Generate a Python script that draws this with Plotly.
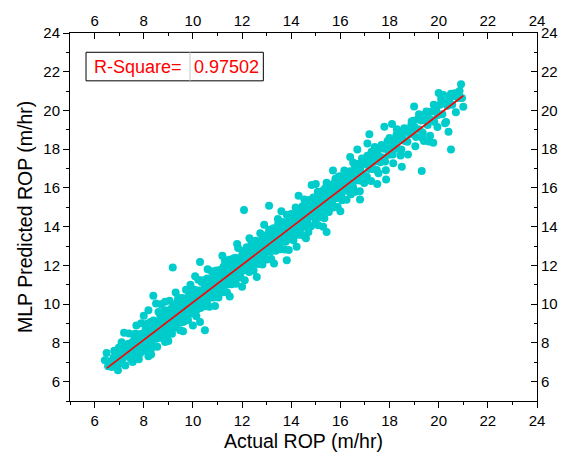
import plotly.graph_objects as go

# ---- data (Actual ROP vs MLP predicted ROP, m/hr) ----
# dense core of the band + isolated outliers
actual_rop = [
    6.55, 6.62, 6.70, 6.78, 6.85, 6.92, 7.00, 7.08, 7.15, 7.22, 7.30, 7.38, 7.45, 7.48,
    6.49, 6.42, 6.63, 6.99, 7.20, 7.37, 7.03,
    7.52, 7.55, 7.58, 7.62, 7.65, 7.68, 7.72, 7.75, 7.78, 7.82, 7.85, 7.88, 7.92, 7.95, 7.98,
    8.02, 8.05, 8.08, 8.12, 8.15, 8.18, 8.22, 8.25, 8.28, 8.32, 8.35, 8.38, 8.42, 8.45, 8.48,
    8.52, 8.55, 8.58, 8.62, 8.65, 8.68, 8.72, 8.75, 8.78, 8.82, 8.85, 8.88, 8.92, 8.95, 8.98,
    8.19, 8.39, 8.50, 8.87, 8.87, 8.19,
    9.03, 9.04, 9.09, 9.10, 9.15, 9.18, 9.19, 9.24, 9.27, 9.28, 9.33, 9.36, 9.37, 9.42, 9.45,
    9.46, 9.51, 9.52, 9.57, 9.60, 9.61, 9.66, 9.69, 9.70, 9.75, 9.78, 9.79, 9.84, 9.85, 9.90,
    9.93, 9.94, 9.99, 10.02, 10.03, 10.08, 10.11, 10.12, 10.17, 10.20, 10.21, 10.26, 10.29,
    10.30, 10.35, 10.38, 10.39, 10.44, 10.47, 10.48, 10.53, 10.56, 10.57, 10.62, 10.65, 10.66,
    10.71, 10.74, 10.75, 10.80, 10.83, 10.84, 10.89, 10.92, 10.93, 10.97, 10.99,
    9.18, 10.29, 10.49, 10.09, 10.29,
    11.02, 11.05, 11.07, 11.11, 11.13, 11.16, 11.20, 11.22, 11.25, 11.29, 11.31, 11.34, 11.38,
    11.40, 11.43, 11.47, 11.49, 11.52, 11.56, 11.58, 11.61, 11.65, 11.67, 11.70, 11.74, 11.76,
    11.79, 11.83, 11.85, 11.88, 11.92, 11.94, 11.97, 12.01, 12.03, 12.06, 12.10, 12.12, 12.15,
    12.19, 12.21, 12.24, 12.28, 12.30, 12.33, 12.37, 12.39, 12.42, 12.46, 12.48, 12.51, 12.55,
    12.57, 12.60, 12.64, 12.66, 12.69, 12.73, 12.75, 12.78, 12.82, 12.84, 12.87, 12.91, 12.93,
    12.96, 12.98, 13.00,
    12.08,
    13.03, 13.06, 13.09, 13.12, 13.15, 13.19, 13.21, 13.25, 13.28, 13.30, 13.34, 13.37, 13.40,
    13.43, 13.47, 13.49, 13.52, 13.56, 13.59, 13.61, 13.65, 13.68, 13.71, 13.74, 13.77, 13.80,
    13.83, 13.87, 13.89, 13.92, 13.96, 13.99, 14.02, 14.05, 14.08, 14.11, 14.15, 14.17, 14.21,
    14.24, 14.27, 14.30, 14.33, 14.37, 14.39, 14.43, 14.46, 14.49, 14.52, 14.55, 14.59, 14.61,
    14.65, 14.68, 14.71, 14.74, 14.77, 14.81, 14.84, 14.87, 14.91, 14.95,
    13.10, 13.82, 14.22, 14.70, 14.83, 15.44,
    15.02, 15.05, 15.09, 15.13, 15.16, 15.20, 15.24, 15.27, 15.31, 15.35, 15.38, 15.42, 15.46,
    15.49, 15.53, 15.57, 15.60, 15.64, 15.68, 15.71, 15.75, 15.79, 15.82, 15.86, 15.90, 15.93,
    15.97, 16.01, 16.04, 16.08, 16.12, 16.15, 16.19, 16.23, 16.26, 16.30, 16.34, 16.37, 16.41,
    16.45, 16.48, 16.52, 16.56, 16.59, 16.63, 16.67, 16.70, 16.74, 16.78, 16.81, 16.85, 16.92,
    15.10, 16.69,
    17.03, 17.08, 17.12, 17.18, 17.22, 17.27, 17.33, 17.37, 17.42, 17.48, 17.52, 17.57, 17.63,
    17.67, 17.72, 17.78, 17.82, 17.88, 17.92, 17.97, 18.03, 18.07, 18.13, 18.17, 18.23, 18.28,
    18.33, 18.38, 18.43, 18.48, 18.53, 18.58, 18.63, 18.68, 18.73, 18.78, 18.83, 18.88, 18.93,
    18.97,
    17.18, 17.79, 17.86,
    19.03, 19.08, 19.15, 19.22, 19.28, 19.35, 19.42, 19.48, 19.55, 19.62, 19.68, 19.75, 19.82,
    19.90, 19.97, 20.05, 20.15, 20.25, 20.35, 20.45, 20.55, 20.65, 20.80, 20.95,
    20.91, 20.50, 19.31, 19.78, 19.40, 20.66, 21.00, 20.19, 20.26,
]

predicted_rop = [
    6.80, 7.05, 6.75, 7.25, 6.95, 7.40, 7.05, 7.55, 7.20, 7.70, 7.35, 7.95, 7.50, 7.15,
    7.48, 7.10, 6.84, 7.76, 8.53, 7.88, 6.93,
    8.02, 7.35, 7.68, 8.22, 7.35, 7.98, 7.72, 8.45, 7.68, 8.22, 7.45, 8.08, 8.47, 7.80, 8.33,
    7.77, 8.20, 8.73, 7.77, 8.40, 8.23, 8.67, 8.05, 9.08, 8.42, 7.90, 8.68, 9.02, 8.40, 8.68,
    8.22, 9.05, 8.58, 9.02, 8.25, 9.38, 8.87, 8.55, 9.13, 9.37, 8.75, 9.13, 8.57, 9.40, 9.03,
    9.69, 10.43, 10.03, 10.12, 8.05, 7.31,
    9.43, 8.74, 9.19, 9.75, 9.00, 9.48, 8.74, 9.44, 9.77, 9.23, 9.68, 9.01, 10.12, 9.42, 9.70,
    9.21, 10.06, 9.62, 9.07, 10.00, 9.76, 9.56, 10.29, 9.40, 10.05, 9.83, 9.59, 10.29, 10.55, 9.50,
    10.13, 9.89, 10.49, 9.67, 10.38, 10.18, 9.96, 10.72, 9.72, 10.45, 10.21, 10.71, 10.04,
    10.45, 11.15, 10.28, 10.69, 10.14, 11.02, 10.53, 10.33, 10.96, 10.07, 10.82, 11.30, 10.61,
    11.06, 10.34, 10.85, 11.30, 10.68, 11.09, 10.59, 11.37, 10.93, 11.27, 10.74,
    11.89, 12.18, 8.65, 11.44, 9.08,
    11.32, 10.65, 11.62, 11.01, 11.33, 10.66, 11.65, 11.22, 11.95, 11.04, 11.41, 10.99, 11.78,
    11.55, 11.28, 12.07, 11.04, 11.77, 11.51, 12.08, 11.31, 12.00, 11.72, 11.50, 12.39, 11.36,
    11.99, 11.73, 12.30, 11.98, 11.37, 12.24, 11.97, 12.56, 11.78, 12.21, 11.75, 12.52, 12.00,
    12.94, 12.26, 11.94, 12.53, 11.85, 12.83, 12.32, 12.59, 12.22, 13.06, 12.58, 12.11, 12.90,
    12.47, 13.05, 12.39, 12.81, 12.74, 12.38, 13.05, 12.28, 13.37, 12.84, 12.72, 13.31, 12.63,
    13.16, 12.93, 13.35,
    14.86,
    12.73, 13.46, 12.99, 13.72, 12.70, 13.39, 13.21, 13.75, 13.03, 13.45, 12.84, 13.72, 13.45,
    13.23, 14.17, 13.14, 13.77, 13.51, 14.04, 13.21, 13.75, 14.23, 13.56, 14.04, 13.22, 14.00,
    13.73, 14.27, 13.89, 13.62, 14.61, 13.79, 14.17, 13.60, 14.43, 14.16, 13.90, 14.67, 14.11,
    14.49, 13.92, 14.75, 14.33, 13.87, 14.69, 14.28, 15.06, 14.59, 14.22, 14.75, 14.54, 15.01,
    14.25, 14.83, 15.21, 14.54, 15.07, 14.71, 14.89, 14.52, 15.16, 14.70,
    15.08, 12.27, 12.96, 13.73, 16.15, 13.73,
    15.32, 14.60, 15.19, 15.68, 14.96, 15.45, 14.74, 15.67, 15.31, 15.05, 15.98, 15.27, 15.66,
    15.09, 15.98, 15.62, 15.35, 15.99, 15.13, 15.86, 16.25, 15.69, 15.47, 16.16, 15.90, 16.58,
    15.67, 16.21, 15.59, 16.48, 16.07, 16.25, 15.99, 16.73, 15.86, 16.55, 16.39, 16.07, 16.86,
    16.30, 16.78, 16.02, 16.71, 17.14, 16.38, 16.67, 17.05, 16.64, 16.38, 17.01, 17.25, 16.72,
    14.08, 17.99,
    17.23, 16.58, 17.57, 16.98, 17.32, 17.87, 16.98, 17.67, 17.37, 16.93, 17.92, 17.62, 17.33,
    18.22, 17.57, 18.03, 17.37, 18.03, 18.42, 17.72, 18.03, 18.42, 17.73, 18.37, 18.13, 18.73,
    18.03, 18.48, 18.73, 17.98, 18.58, 18.98, 18.43, 18.93, 18.38, 18.93, 18.78, 19.23, 18.78,
    19.47,
    18.77, 19.16, 16.44,
    19.13, 18.63, 19.55, 19.02, 19.48, 18.85, 19.77, 19.48, 19.25, 19.92, 19.53, 19.95, 19.42,
    20.00, 19.77, 20.30, 19.80, 20.40, 20.25, 20.65, 20.30, 20.75, 20.65, 20.65,
    21.35, 17.99, 16.87, 18.33, 18.42, 20.89, 20.19, 20.80, 19.34,
]

# points along the upper and lower edges of the band
actual_rop_edge = [
    6.80, 6.95, 7.10, 7.25, 7.40, 7.55, 7.65, 7.80, 7.90, 8.05, 8.15, 8.30, 8.40, 8.55, 8.60,
    8.75, 8.85, 8.95, 9.05, 9.15, 9.22, 9.30, 9.40, 9.48, 9.55, 9.63, 9.72, 9.80, 9.88, 9.96,
    10.05, 10.14, 10.22, 10.31, 10.40, 10.50, 10.58, 10.67, 10.76, 10.85, 10.95, 11.04, 11.12,
    11.21, 11.30, 11.39, 11.48, 11.57, 11.66, 11.75, 11.84, 11.93, 12.02, 12.11, 12.20, 12.29,
    12.38, 12.47, 12.56, 12.65, 12.74, 12.83, 12.92, 13.01, 13.10, 13.19, 13.28, 13.37, 13.46,
    13.55, 13.64, 13.73, 13.82, 13.91, 14.00, 14.09, 14.18, 14.27, 14.36, 14.45, 14.54, 14.63,
    14.72, 14.81, 14.90, 14.99, 15.08, 15.17, 15.26, 15.35, 15.44, 15.53, 15.62, 15.71, 15.80,
    15.89, 15.98, 16.07, 16.16, 16.25, 16.34, 16.43, 16.52, 16.61, 16.70, 16.79, 16.88, 16.97,
    17.10, 17.25, 17.40, 17.55, 17.70, 17.85, 18.00, 18.15, 18.30, 18.45, 18.60, 18.75, 18.90,
    19.05, 19.20, 19.35, 19.50, 19.65, 19.80, 19.95, 20.10, 20.30, 20.50, 20.70, 20.85,
]
predicted_rop_edge = [
    7.59, 6.59, 8.03, 6.83, 8.48, 7.02, 8.47, 7.16, 9.01, 7.60, 9.00, 7.70, 9.15, 7.80, 9.60,
    8.35, 9.69, 8.39, 10.17, 8.47, 9.94, 8.82, 10.32, 8.65, 10.32, 9.10, 10.74, 9.17, 10.70, 9.53,
    10.74, 9.38, 11.26, 9.80, 11.24, 9.89, 11.32, 9.86, 11.70, 10.34, 11.74, 10.35, 11.78,
    10.62, 12.26, 10.60, 12.29, 11.03, 12.37, 11.06, 12.90, 11.44, 12.74, 11.23, 12.82, 11.66,
    13.25, 11.74, 13.28, 12.07, 13.66, 12.05, 13.54, 12.30, 13.84, 12.33, 13.92, 12.76, 14.40,
    12.84, 14.23, 12.82, 14.61, 13.35, 14.66, 13.30, 14.99, 13.58, 14.92, 13.56, 15.40, 13.99,
    15.38, 14.02, 15.51, 14.25, 15.81, 14.50, 15.84, 14.43, 16.27, 14.76, 16.15, 14.99, 16.48,
    15.02, 16.61, 15.36, 16.90, 15.39, 16.83, 15.67, 17.31, 15.80, 17.24, 15.83, 17.52, 16.26,
    17.66, 16.36, 18.11, 16.76, 18.16, 16.91, 18.58, 17.28, 19.03, 17.68, 19.08, 17.73, 19.43,
    18.15, 19.80, 18.55, 19.95, 18.70, 20.30, 19.15, 20.61, 19.41, 20.86, 19.91, 21.01,
]

# scattered points sticking out of the band
actual_rop_spread = [
    7.7, 8.0, 8.3, 8.7, 9.0, 9.3, 9.6, 9.9, 10.0, 10.6, 10.9, 11.2, 11.5, 11.8, 12.0, 12.3,
    12.6, 12.9, 13.3, 13.6, 13.9, 14.3, 14.6, 15.0, 15.3, 15.7, 16.0, 16.4, 16.8, 17.1, 17.5,
    18.1, 18.5, 19.0, 19.6, 20.0, 20.4,
]
predicted_rop_spread = [
    8.9, 9.4, 7.4, 10.0, 8.1, 10.6, 8.6, 11.0, 8.9, 11.8, 9.9, 12.5, 10.4, 13.1, 10.9, 13.4,
    11.4, 14.1, 12.1, 14.8, 12.8, 15.6, 13.4, 16.2, 14.0, 16.9, 14.8, 17.6, 15.4, 18.3, 16.2,
    19.3, 17.1, 20.2, 18.4, 20.9, 18.9,
]

# linear fit line endpoints
fit_x = [6.5, 21.0]
fit_y = [6.70, 20.76]

r_square_label = "R-Square="
r_square_value = "0.97502"

axis_range = [5, 24]
x_title = "Actual ROP (m/hr)"
y_title = "MLP Predicted ROP (m/hr)"

FONT = "Arial, 'Liberation Sans', sans-serif"
CYAN = "#00CCCC"

all_x = actual_rop_spread + actual_rop_edge + actual_rop
all_y = predicted_rop_spread + predicted_rop_edge + predicted_rop

fig = go.Figure()
fig.add_trace(go.Scatter(
    x=all_x, y=all_y, mode="markers",
    marker=dict(size=8, color=CYAN, line=dict(width=0)),
    xaxis="x", yaxis="y", showlegend=False, hoverinfo="skip",
))
fig.add_trace(go.Scatter(
    x=fit_x, y=fit_y, mode="lines",
    line=dict(color="#FF0000", width=1.6),
    xaxis="x2", yaxis="y2", showlegend=False, hoverinfo="skip",
))

common = dict(
    range=axis_range, tick0=0, dtick=2, showgrid=False, zeroline=False,
    showline=True, linecolor="black", linewidth=1, tickwidth=1, tickcolor="black",
    tickfont=dict(family=FONT, size=15, color="black"), automargin=False,
)

fig.update_layout(
    width=571, height=461,
    margin=dict(l=70, r=34, t=33, b=60),
    paper_bgcolor="white", plot_bgcolor="white",
    font=dict(family=FONT, color="black"),
    xaxis=dict(**common, ticks="outside", ticklen=6,
               minor=dict(ticks="outside", ticklen=3, dtick=1, tick0=0, tickcolor="black")),
    yaxis=dict(**common, ticks="outside", ticklen=6,
               minor=dict(ticks="outside", ticklen=3, dtick=1, tick0=0, tickcolor="black")),
    xaxis2=dict(**common, overlaying="x", side="top", anchor="y", ticks="inside", ticklen=6,
                minor=dict(ticks="inside", ticklen=3, dtick=1, tick0=0, tickcolor="black")),
    yaxis2=dict(**common, overlaying="y", side="right", anchor="x", ticks="inside", ticklen=6,
                minor=dict(ticks="inside", ticklen=3, dtick=1, tick0=0, tickcolor="black")),
)

fig.add_annotation(text=x_title, xref="paper", yref="paper", x=0.5, y=-0.109,
                   xanchor="center", yanchor="middle", showarrow=False,
                   font=dict(family=FONT, size=19.5, color="black"))
fig.add_annotation(text=y_title, xref="paper", yref="paper", x=-0.0964, y=0.5,
                   xanchor="center", yanchor="middle", textangle=-90, showarrow=False,
                   font=dict(family=FONT, size=19.5, color="black"))

bx0, bx1, bdiv = 0.0343, 0.414, 0.257
by0, by1 = 0.870, 0.9476
fig.add_shape(type="rect", xref="paper", yref="paper", x0=bx0, x1=bx1, y0=by0, y1=by1,
              line=dict(color="black", width=1), fillcolor="white", layer="above")
fig.add_shape(type="line", xref="paper", yref="paper", x0=bdiv, x1=bdiv, y0=by0, y1=by1,
              line=dict(color="#C8C8C8", width=1), layer="above")
fig.add_annotation(text=r_square_label, xref="paper", yref="paper", x=(bx0 + bdiv) / 2,
                   y=(by0 + by1) / 2, xanchor="center", yanchor="middle", showarrow=False,
                   font=dict(family=FONT, size=18, color="#FF0000"))
fig.add_annotation(text=r_square_value, xref="paper", yref="paper", x=(bdiv + bx1) / 2,
                   y=(by0 + by1) / 2, xanchor="center", yanchor="middle", showarrow=False,
                   font=dict(family=FONT, size=18, color="#FF0000"))

fig.write_html("out.html")
